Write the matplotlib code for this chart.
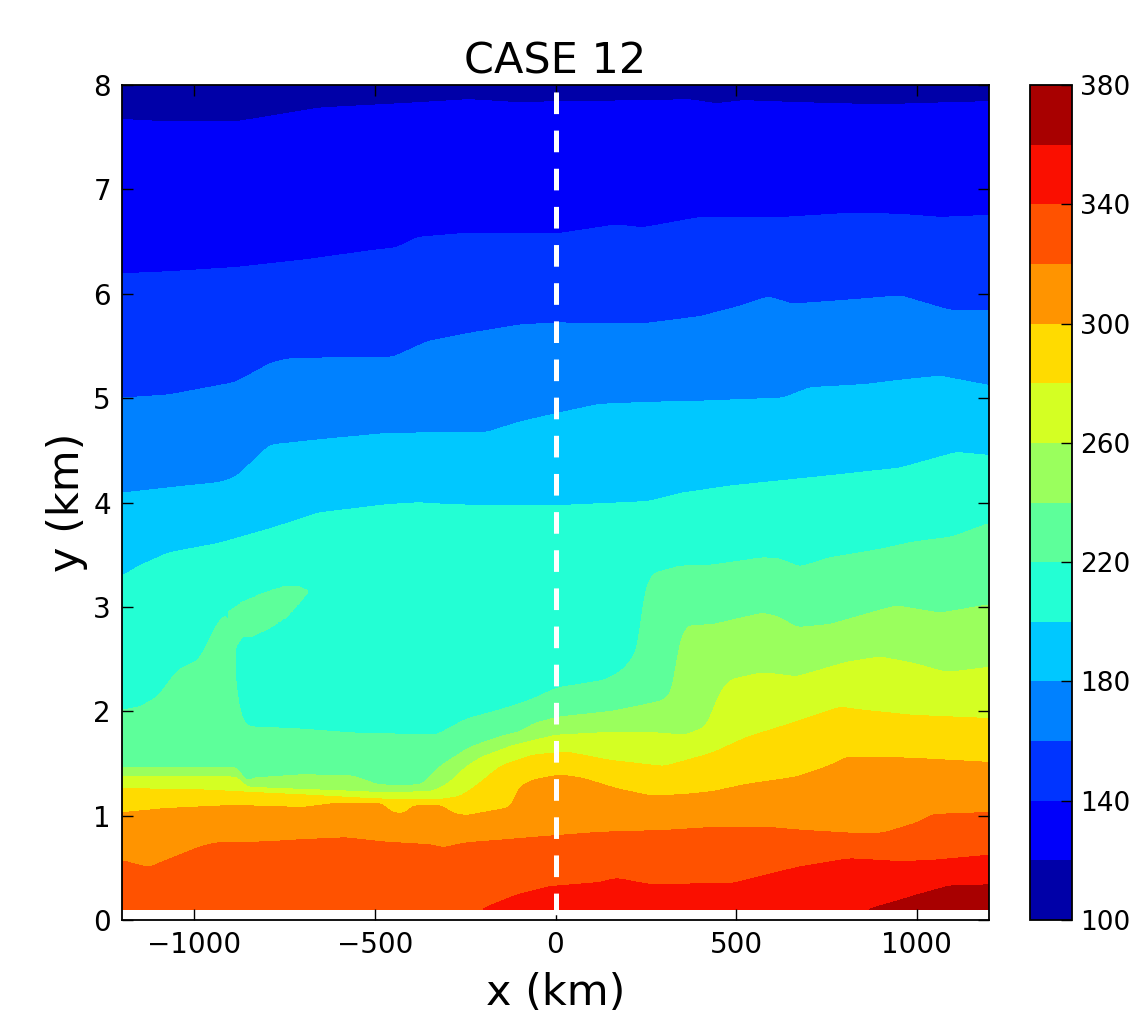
import numpy as np
import matplotlib.pyplot as plt

# heights (km) of each isoline, as (x km, y km) points
c120 = [(-1200, 7.67), (-1090, 7.65), (-880, 7.65), (-650, 7.78), (-380, 7.83),
        (-240, 7.86), (-100, 7.83), (0, 7.84), (260, 7.85), (370, 7.86),
        (445, 7.82), (520, 7.85), (680, 7.83), (900, 7.81), (1090, 7.83), (1200, 7.84)]
c140 = [(-1200, 6.19), (-1070, 6.21), (-885, 6.25), (-700, 6.32), (-515, 6.41),
        (-440, 6.44), (-380, 6.54), (-240, 6.58), (0, 6.57), (75, 6.61), (170, 6.66),
        (240, 6.63), (400, 6.73), (630, 6.73), (815, 6.77), (955, 6.76), (1065, 6.73),
        (1200, 6.75)]
c160 = [(-1200, 5.0), (-1070, 5.03), (-885, 5.15), (-785, 5.34), (-730, 5.38),
        (-450, 5.39), (-355, 5.54), (-240, 5.62), (-100, 5.70), (0, 5.72), (240, 5.71),
        (400, 5.78), (500, 5.87), (590, 5.97), (655, 5.90), (815, 5.94), (955, 5.98),
        (1090, 5.84), (1200, 5.84)]
c180 = [(-1200, 4.09), (-1070, 4.14), (-930, 4.19), (-885, 4.24), (-790, 4.55),
        (-655, 4.60), (-470, 4.66), (-285, 4.67), (-190, 4.67), (-100, 4.77), (0, 4.85),
        (120, 4.94), (260, 4.96), (400, 4.97), (630, 5.0), (705, 5.1), (860, 5.13),
        (950, 5.17), (1065, 5.21), (1200, 5.12)]
c200 = [(-1200, 3.29), (-1160, 3.38), (-1070, 3.52), (-930, 3.61), (-790, 3.75),
        (-655, 3.90), (-470, 3.98), (-380, 4.0), (-285, 3.98), (-150, 3.97), (0, 3.97),
        (260, 4.01), (350, 4.09), (490, 4.16), (630, 4.21), (770, 4.26), (955, 4.33),
        (1110, 4.48), (1200, 4.45)]
c220 = [(-1200, 2.01), (-1150, 2.04), (-1100, 2.14), (-1047, 2.39), (-986, 2.49),
        (-950, 2.75), (-931, 2.87), (-895, 2.97), (-889, 2.2), (-875, 1.98), (-856, 1.85),
        (-709, 1.83), (-562, 1.79), (-330, 1.77), (-247, 1.92), (-155, 2.01), (-64, 2.11),
        (3, 2.22), (141, 2.30), (186, 2.39), (233, 2.59), (241, 3.13), (269, 3.32),
        (343, 3.39), (435, 3.40), (573, 3.47), (620, 3.46), (676, 3.38), (759, 3.47),
        (898, 3.55), (989, 3.62), (1100, 3.67), (1200, 3.80)]
c240 = [(-1200, 1.46), (-880, 1.46), (-856, 1.31), (-839, 1.36), (-700, 1.39),
        (-560, 1.38), (-490, 1.29), (-370, 1.29), (-320, 1.47), (-240, 1.65),
        (-150, 1.76), (-100, 1.80), (-60, 1.88), (3, 1.94), (160, 2.0), (300, 2.1),
        (330, 2.2), (335, 2.59), (363, 2.82), (435, 2.83), (573, 2.94), (620, 2.90),
        (668, 2.80), (760, 2.83), (900, 2.97), (945, 3.01), (1065, 2.94), (1200, 3.02)]
c260 = [(-1200, 1.37), (-880, 1.37), (-856, 1.27), (-710, 1.25), (-480, 1.22),
        (-340, 1.23), (-295, 1.31), (-247, 1.47), (-205, 1.56), (-120, 1.67), (0, 1.77),
        (160, 1.80), (250, 1.80), (360, 1.77), (418, 1.85), (454, 2.17), (482, 2.30),
        (573, 2.37), (668, 2.33), (806, 2.47), (898, 2.52), (990, 2.46), (1083, 2.37),
        (1200, 2.42)]
c280 = [(-1200, 1.26), (-1000, 1.25), (-700, 1.20), (-500, 1.16), (-330, 1.15),
        (-265, 1.18), (-225, 1.27), (-150, 1.48), (-64, 1.58), (30, 1.61), (150, 1.53),
        (300, 1.47), (435, 1.60), (530, 1.75), (668, 1.90), (787, 2.04), (850, 2.01),
        (990, 1.96), (1200, 1.93)]
c300 = [(-1200, 1.03), (-1080, 1.07), (-890, 1.10), (-700, 1.08), (-610, 1.12),
        (-480, 1.12), (-455, 1.03), (-415, 1.02), (-396, 1.10), (-313, 1.10),
        (-285, 1.02), (-247, 1.0), (-119, 1.08), (-105, 1.27), (-64, 1.34), (11, 1.39),
        (75, 1.36), (169, 1.26), (260, 1.19), (352, 1.20), (435, 1.23), (530, 1.30),
        (668, 1.37), (760, 1.48), (806, 1.56), (900, 1.56), (990, 1.55), (1200, 1.51)]
c320 = [(-1200, 0.57), (-1125, 0.50), (-1080, 0.57), (-985, 0.70), (-940, 0.74),
        (-800, 0.75), (-710, 0.77), (-580, 0.79), (-480, 0.75), (-340, 0.72),
        (-313, 0.69), (-250, 0.74), (-64, 0.79), (120, 0.84), (307, 0.86), (446, 0.89),
        (584, 0.89), (676, 0.86), (814, 0.83), (906, 0.83), (1000, 0.93), (1044, 1.01),
        (1200, 1.03)]
c340 = [(-1200, -0.1), (-250, -0.1), (-200, 0.11), (-108, 0.24), (-17, 0.32),
        (122, 0.36), (169, 0.40), (260, 0.34), (490, 0.35), (676, 0.51), (814, 0.59),
        (953, 0.56), (1044, 0.57), (1200, 0.62)]
c360 = [(-1200, -0.2), (820, -0.2), (861, 0.1), (1000, 0.24), (1091, 0.33), (1200, 0.34)]

# folded tongue of the 220-240 band on the left (lower / upper edge)
tongue_x = [-905, -889, -884, -867, -839, -792, -745, -709, -690, -685]
tongue_lo = [2.30, 2.25, 2.62, 2.71, 2.72, 2.80, 2.90, 3.04, 3.12, 3.14]
tongue_hi = [2.95, 2.99, 3.00, 3.05, 3.09, 3.15, 3.20, 3.19, 3.16, 3.14]

levels = np.arange(100, 381, 20)
line_values = [360, 340, 320, 300, 280, 260, 240, 220, 200, 180, 160, 140, 120]
lines = [c360, c340, c320, c300, c280, c260, c240, c220, c200, c180, c160, c140, c120]

x = np.linspace(-1200, 1200, 1201)
y = np.linspace(0.1, 8, 791)


def smooth(row, s=5):
    # light gaussian rounding of the polyline corners (s in grid steps)
    k = np.arange(-3 * s, 3 * s + 1)
    w = np.exp(-0.5 * (k / s) ** 2)
    w /= w.sum()
    return np.convolve(np.pad(row, 3 * s, mode='edge'), w, mode='valid')


heights = np.array([smooth(np.interp(x, [p[0] for p in ln], [p[1] for p in ln]))
                    for ln in lines])
heights = np.maximum.accumulate(heights + 1e-4 * np.arange(len(lines))[:, None], axis=0)

field = np.empty((y.size, x.size))
for j in range(x.size):
    zs = np.r_[-1.0, heights[:, j], 8.6]
    vs = np.r_[379.0, line_values, 101.0]
    field[:, j] = np.interp(y, zs, vs)

X, Y = np.meshgrid(x, y)
lo = np.interp(x, tongue_x, tongue_lo)
hi = np.interp(x, tongue_x, tongue_hi)
in_x = (x >= tongue_x[0]) & (x <= tongue_x[-1])
field[in_x[None, :] & (Y >= lo[None, :]) & (Y <= hi[None, :])] = 230

fig = plt.figure(figsize=(11.3, 10.15), dpi=100)
ax = fig.add_axes([122 / 1130, 95 / 1015, 867 / 1130, 835 / 1015])
cax = fig.add_axes([1030 / 1130, 95 / 1015, 42 / 1130, 835 / 1015])

cf = ax.contourf(X, Y, field, levels=levels, cmap='jet')
ax.plot([0, 0], [8, 0], color='white', lw=3.6, linestyle=(6.24, (4.33, 3.3)))

ax.set_xlim(-1200, 1200)
ax.set_ylim(0, 8)
ax.set_xticks([-1000, -500, 0, 500, 1000])
ax.set_yticks(range(0, 9))
ax.tick_params(direction='in', length=8, width=1, labelsize=20, top=True, right=True, pad=8)
for s in ax.spines.values():
    s.set_linewidth(1.3)
ax.set_title('CASE 12', fontsize=31, pad=8)
ax.set_xlabel('x (km)', fontsize=31, labelpad=9)
ax.set_ylabel('y (km)', fontsize=31, labelpad=4)

cb = fig.colorbar(cf, cax=cax, ticks=np.arange(100, 381, 40))
cb.ax.tick_params(direction='in', length=8, width=1, labelsize=19, pad=6)
cb.outline.set_linewidth(1.3)

fig.savefig('out.png', dpi=100)
